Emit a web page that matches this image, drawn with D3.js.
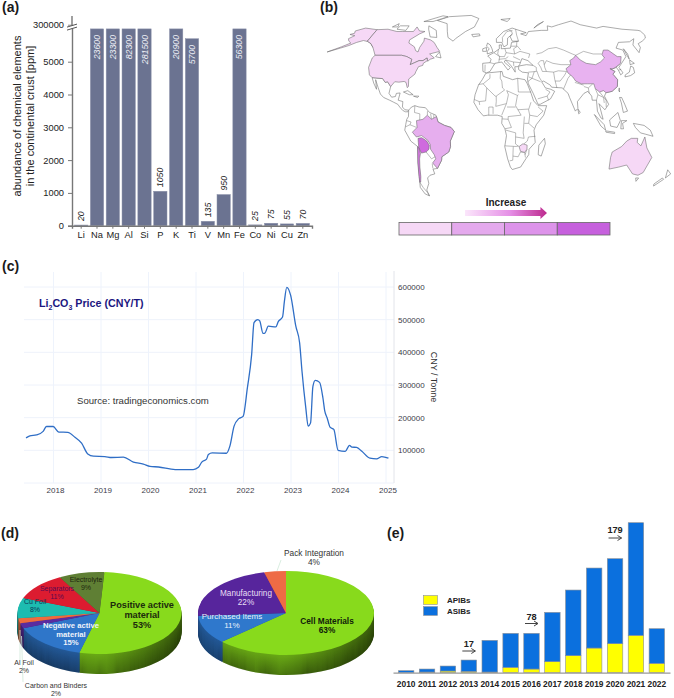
<!DOCTYPE html>
<html>
<head>
<meta charset="utf-8">
<script src="https://cdn.jsdelivr.net/npm/d3@7"></script>
<style>
  html, body { margin: 0; padding: 0; background: #fff; }
  svg { display: block; font-family: "Liberation Sans", Arial, sans-serif; }
  .panel-label { font-size: 14px; font-weight: bold; fill: #1a1a1a; }
</style>
</head>
<body>
<div class="container"></div>
<script>
// (a) crustal abundance
const elements = ['Li', 'Na', 'Mg', 'Al', 'Si', 'P', 'K', 'Ti', 'V', 'Mn', 'Fe', 'Co', 'Ni', 'Cu', 'Zn']
const abundance = [20, 23600, 23300, 82300, 281500, 1050, 20900, 5700, 135, 950, 56300, 25, 75, 55, 70]
const abundanceTicks = [0, 1000, 2000, 3000, 4000, 5000, 300000]

// (c) lithium carbonate price
const priceYears = [2017.39, 2017.47, 2017.61, 2017.75, 2017.82, 2017.96, 2018.08, 2018.27, 2018.42, 2018.56, 2018.69, 2018.81, 2019.05, 2019.19, 2019.44, 2019.65, 2019.86, 2020.0, 2020.18, 2020.53, 2020.91, 2021.02, 2021.09, 2021.19, 2021.23, 2021.31, 2021.61, 2021.68, 2021.77, 2021.87, 2021.96, 2022.05, 2022.14, 2022.19, 2022.27, 2022.31, 2022.38, 2022.42, 2022.49, 2022.65, 2022.7, 2022.79, 2022.83, 2022.88, 2022.96, 2023.07, 2023.15, 2023.2, 2023.28, 2023.33, 2023.38, 2023.43, 2023.48, 2023.57, 2023.64, 2023.68, 2023.73, 2023.79, 2023.87, 2023.96, 2024.11, 2024.2, 2024.25, 2024.35, 2024.46, 2024.63, 2024.77, 2024.88, 2025.02]
const priceValues = [138, 144, 147, 158, 173, 173, 156, 155, 140, 122, 89, 82, 81, 78, 79, 64, 58, 51, 49, 41, 41, 48, 64, 73, 87, 92, 91, 112, 174, 197, 204, 291, 393, 491, 500, 496, 458, 459, 480, 478, 494, 508, 557, 599, 575, 480, 429, 342, 230, 174, 184, 296, 314, 308, 261, 220, 199, 171, 164, 100, 97, 115, 110, 109, 97, 76, 74, 81, 76].map(v => v * 1000)
const priceTicks = [0, 100000, 200000, 300000, 400000, 500000, 600000]
const yearTicks = [2018, 2019, 2020, 2021, 2022, 2023, 2024, 2025]

// (d) cost breakdown
const cellNames = ['Positive', 'Negative', 'Carbon', 'Al', 'Cu', 'Separators', 'Electrolyte']
const cellShares = [53, 15, 2, 2, 8, 11, 9]
const cellColors = ['#88da1c', '#2f76c9', '#5a2ca0', '#ee6b3d', '#1dbcb0', '#dc1c30', '#5f7f34']
const packNames = ['Cell', 'Purchased', 'Manufacturing', 'Pack']
const packShares = [63, 11, 22, 4]
const packColors = ['#88da1c', '#2f78cc', '#57259c', '#ee6b45']

// (e) publications
const pubYears = [2010, 2011, 2012, 2013, 2014, 2015, 2016, 2017, 2018, 2019, 2020, 2021, 2022]
const apibs = [0, 2, 5, 4, 2, 16, 11, 33, 51, 74, 87, 112, 28]
const asibs = [6, 9, 15, 34, 95, 102, 107, 148, 197, 240, 255, 338, 104]

// (b) map outlines, lon/lat
const alaska = [[-168,65.5],[-164,66.5],[-166,68.5],[-157,71],[-141,69.6],[-141,60],[-135,58],[-130,55],[-133,57],[-139,59.5],[-146,60.5],[-152,59],[-158,56.5],[-165,54.5],[-176,51.5],[-165,55.5],[-158,58.5],[-162,60],[-165,62],[-161,64.5]]
const canada = [[-141,69.6],[-128,70],[-115,68],[-108,68],[-95,68],[-94,72],[-88,68.5],[-81,68],[-86,66],[-94,61],[-93,58.5],[-85,55.5],[-82,52.5],[-79,51.5],[-79,55],[-77,60],[-78,62.5],[-70,61],[-65,59],[-60,55],[-56,52],[-66,50],[-60,47],[-64,46],[-66,44.5],[-67.5,47],[-71,45],[-75,45],[-79,43.5],[-83,42],[-83,46],[-89,48],[-95,49],[-123,49],[-130,55],[-135,58],[-141,60]]
const usa = [[-123,49],[-95,49],[-89,48],[-83,46],[-83,42],[-79,43.5],[-75,45],[-71,45],[-67.5,47],[-66.5,45],[-70,43],[-70,41.5],[-74,40.5],[-75.5,37],[-76,35],[-81,31.5],[-80,26],[-81,25.2],[-83,29],[-85,29.7],[-90,29.2],[-94,29.5],[-97,26],[-101,29.5],[-103,29],[-106.5,31.8],[-117,32.5],[-120.5,34.5],[-124,40],[-124.5,47]]
const mexico = [[-117,32.5],[-106.5,31.8],[-103,29],[-101,29.5],[-97,26],[-97.5,21],[-94.5,18.2],[-91,18.7],[-90.5,21],[-87,21.3],[-88,16],[-83.5,15],[-83.5,11],[-81,9],[-77.5,8.7],[-78,7.5],[-80.5,7.5],[-83,8.5],[-86,11],[-88,13],[-92,14.5],[-96,16],[-102,18],[-105.5,20.5],[-109,25.5],[-113,31],[-110,24],[-114,28.5]]
const greenland = [[-73,78],[-60,82],[-30,83.5],[-18,80],[-22,72],[-32,68],[-42,62],[-44,60],[-51,63],[-54,68],[-58,75]]
const southAmerica = [[-77.5,8.7],[-75,11],[-72,12],[-68,11],[-62,10.5],[-58,7],[-52,5],[-50,0],[-44,-2.5],[-38,-4],[-35,-7],[-39,-14],[-39,-18],[-41,-22],[-48,-25.5],[-48.5,-28],[-53.5,-34],[-58,-34.5],[-57,-38],[-62,-39],[-65,-41],[-65,-45],[-69,-50],[-68,-54.5],[-72,-53],[-75,-48],[-73,-40],[-71.5,-30],[-70,-18],[-76,-14],[-81,-6],[-80,-2],[-79,2],[-77.5,4]]
const brazil = [[-60,5],[-64,2],[-70,1],[-69.5,-4],[-74,-7.5],[-70.5,-11],[-65.5,-10],[-60,-13.5],[-58,-16.5],[-58,-20],[-55,-24],[-54,-27],[-57.5,-30],[-53.5,-34],[-48.5,-28],[-48,-25.5],[-41,-22],[-39,-18],[-39,-14],[-35,-7],[-38,-4],[-44,-2.5],[-50,0],[-51.5,4],[-56,2]]
const bolivia = [[-69,-12],[-65.5,-11.5],[-61,-14],[-59,-17],[-59.5,-20],[-62.5,-22],[-67,-22.8],[-69,-19],[-69,-15]]
const chile = [[-70,-18],[-69,-19],[-68,-23],[-69.5,-27],[-70.5,-33],[-71.5,-40],[-73,-44],[-74,-44],[-73.3,-40],[-71.8,-30]]
const africa = [[-6,35.8],[10,37],[11,33.5],[20,31],[25,32],[32,31],[34,28],[37,21],[39,15.5],[43,12],[51,12],[48,5],[41,-2],[39,-6],[40.5,-15],[35,-20],[35,-24],[32.5,-27],[28,-33],[20,-34.8],[18,-33],[15,-27],[12,-18],[13.5,-10],[12,-5],[9,-1],[9.5,4],[5,5],[-4,5],[-8,4.5],[-13,9],[-17,14.5],[-16,20],[-13,27],[-9.5,31]]
const zimbabwe = [[25.5,-18],[29,-16],[33,-17],[33,-20],[31,-22.3],[27,-21.5]]
const eurasia = [[-9,37],[-9.5,43],[-2,43.5],[-1,46],[-4.5,48.5],[2,51],[8,54],[8,57],[10.5,57],[10,54],[20,54.5],[22,59],[30,60],[23,60],[21,64],[24,65.7],[18,62.5],[17,57],[13,55.5],[11,59],[5,59],[5,62],[14,68],[25,71],[41,67],[34,66],[40,64.5],[44,68],[60,69],[68,69],[70,73],[75,72],[85,74],[105,77.5],[113,74],[130,71],[140,72.5],[160,70],[178,69],[180,68.5],[180,65],[177,62.5],[170,60],[163,58],[162,55],[156.5,51],[156,57],[163,62],[155,59.5],[142,59],[135,54.5],[141,53],[140,48],[132,43],[127.5,40],[129.5,36],[126.5,34.5],[126,37.5],[125,40],[121,39],[118,39],[122,37],[119,35],[122,31],[120,26],[114,22.5],[108,21.5],[106,19],[109,13],[105,9],[100,13.5],[103,2],[101,3],[98,8],[98,16],[94,16],[94,19],[91,22.5],[87,21],[80,15],[80,10],[77.5,8],[73,18],[72,21],[67,25],[57,25.5],[56,27],[50,30],[48,29.5],[51,25],[56,24],[59.5,22.5],[55,17],[45,13],[43,13],[39,21],[35,28],[34.5,31.5],[36,36],[30,36.5],[26.5,38.5],[27,41],[35,42],[41.5,41.5],[37,45],[31,46.5],[28,42],[26,40.5],[23,40.5],[23,36.5],[19.5,41],[14,45.5],[12.5,44],[18.5,40],[16,38],[10,44],[3,43],[0,39.5],[-2,37],[-5.5,36]]
const china = [[74,39],[80,42],[80,45],[85,47],[88,49],[91,45.5],[96,43],[105,42],[111,44],[117,47],[116,49.5],[120,53],[125,53],[131,48],[135,48],[131,43],[127.5,41.5],[124,40],[121,39],[118,39],[122,37],[119,35],[122,31],[120,26],[114,22.5],[108,21.5],[106,23],[102,22],[98.5,24.5],[98,28],[92,28],[86,28],[81,30],[79,33],[75,36]]
const australia = [[114,-22],[122,-18],[126,-14],[130,-12],[136,-12],[136,-15],[140,-17.5],[142.5,-11],[146,-19],[153,-26],[150,-37],[146,-39],[140,-38],[135,-34.5],[131,-31.5],[124,-33],[115,-34.5],[113.5,-26]]
const islands = [
  [[49,-12],[50,-16],[47,-25],[44,-24],[44,-17]],
  [[-5,50],[1,51.5],[0,54],[-2,57],[-5,58.5],[-6,56],[-3,54],[-5,52]],
  [[-10,52],[-6,52],[-6,55],[-10,54]],
  [[-24,65.5],[-15,66],[-14,64.5],[-22,63.5]],
  [[12,79],[25,80],[20,77]],
  [[52,71],[68,77],[58,74]],
  [[130,33],[136,34],[141,36],[142,40],[140,41],[136,36.5],[131,34.5]],
  [[140,42],[145,43],[142,45.5]],
  [[142,46],[143.5,50],[142.5,54],[142,50]],
  [[120.5,23],[121.5,25],[121,22]],
  [[120,18],[122,18],[124,13],[126,8],[122,7],[121,14]],
  [[80,9.5],[82,7],[80.5,6]],
  [[95,5.5],[104,-2],[105.5,-6],[101,-3]],
  [[105.5,-6.5],[114,-7.5],[114,-8.5],[106,-7.5]],
  [[109,1.5],[117,7],[119,1],[116,-4],[110,-3]],
  [[120,1],[125,1],[121,-1],[122,-5],[119.5,-5]],
  [[131,-1],[141,-2.5],[147,-6],[150,-10.5],[143,-9],[138,-8],[133,-4]],
  [[145,-41],[148,-41],[147,-43.5]],
  [[173,-35],[178,-38],[175,-41]],
  [[172,-41],[174,-42],[168,-47],[167,-45.5]],
  [[-84,22],[-80,23],[-74.5,20],[-78,20]],
  [[-74,19],[-69,19],[-70,18]],
  [[-80,73],[-68,69],[-64,63],[-72,63.5],[-78,70]],
  [[-117,70],[-105,69],[-105,73],[-116,73]],
  [[-90,77],[-70,83],[-62,82],[-78,77]],
  [[-125,72],[-118,72],[-120,75]],
  [[-59,48],[-53,47],[-56,51.5]]
]
const borders = [
  // south america
  [[-72,12],[-72,7],[-67,6],[-67,1.5]], [[-80,-3.5],[-76,-2],[-70,-4]], [[-79,1],[-75,0],[-76,-2]], [[-60,8],[-60,5]], [[-57,6],[-56,2]], [[-54,5.5],[-54,2.5]], [[-62.5,-22],[-58,-27],[-54.5,-25.5]], [[-58,-34],[-58,-30.5]], [[-72,-48],[-69,-52],[-68,-54.5]], [[-74,-44],[-72,-48]],
  // africa
  [[-2,35],[-2,32],[-8.5,28],[-13,27.5]], [[8.5,37],[8,32],[9.5,30]], [[9.5,30],[10,25],[12,23.5]], [[-8.5,28],[-5,25],[3,19],[4,19],[12,23.5]], [[-5,25],[-6,15.5],[-12,15]], [[-16.5,16.5],[-12,15],[-11.5,12.5]], [[25,32],[25,22]], [[25,22],[37,22]], [[14,23],[24,19.5],[25,20]], [[14,23],[15.5,20],[13.5,13.5]], [[4,19],[4,15],[3.5,11.5],[13.5,13.5]], [[24,19.5],[22,12],[27,5]], [[14,11],[22,11]], [[13.5,13.5],[9,5]], [[-3,5],[-3,11],[1,11],[1,6]], [[15,4],[27,5]], [[9.5,2.3],[15,2],[15,4]], [[12,-5],[18,-4],[15,2]], [[30,4],[29,-8],[30,-12],[22,-11],[22,-8],[13,-6]], [[36.5,14.5],[34,9],[35,5]], [[43,11],[47.5,8],[42,4],[35,5]], [[34,-1],[39,-4.5]], [[30,-1],[34,-1],[35,5]], [[24,9],[34,9.5]], [[34,-11],[40.5,-10.5]], [[12,-17.5],[23,-18],[25,-17.5]], [[22,-11],[22,-16],[25,-18]], [[20,-18],[20,-28],[17,-28.5]], [[20,-25],[25,-25.5],[27,-22],[31,-22.3],[32,-26]], [[30,-16],[33,-14],[34,-11]], [[33,-20],[31.5,-24]],
  // europe
  [[30,60],[29,65],[29,70]], [[12,59],[12,63],[18,68],[25,69]], [[24,65.7],[24,68],[21,69]], [[28,59.5],[27,56],[21,56]], [[14,54],[15,51],[24,50],[23.5,54]], [[7,53.5],[6,50],[8,48],[13,48],[15,51]], [[2,51],[8,48],[7,44]], [[-2,43.5],[3,42.5]], [[-7,42],[-7,37]], [[24,50],[30,52],[40,50],[38,47]], [[23.5,54],[28,56],[31,53]], [[22,48],[29,45.5]], [[22,44],[29,43.5]], [[7,46],[14,46.5],[17,48]], [[14,45.5],[22,44],[22,41]],
  // asia
  [[36,36.5],[44,37],[44.5,40],[41.5,41.5]], [[36,33],[39,32],[42,37]], [[34.5,29.5],[39,32],[47,29.5]], [[44.5,37.5],[46,33],[48,30]], [[43,17],[52,19],[55,22],[51,24]], [[52,19],[53,16]], [[61,36.5],[61,31],[62,25]], [[47,50],[53,51],[61,54],[70,55],[77,53],[85,50],[88,49]], [[88,49],[98,52],[107,50],[116,50]], [[53,42],[56,45],[62,43],[70,42],[80,42]], [[54,37],[61,36.5],[66,37.5],[74,37]], [[61,30],[66,30],[71,34],[74,37]], [[68,24],[71,28],[74,32],[78,35]], [[80,29],[88,27]], [[88,26],[92,25],[92,21]], [[92,25],[97,28]], [[98.5,24.5],[100,20],[98,16]], [[100,20],[105,18],[105,14]], [[102,22],[107,16],[106.5,11]], [[124.5,40],[130,42.5]], [[126,38],[129,38.5]],
  // caspian
  [[50,45],[53,45],[53,40],[54,37],[50,37],[49,40],[47,43],[50,45]]
]

const legendSteps = ['#f6d8f6', '#e4a9ed', '#dd93ea', '#c660dd']

const svg = d3.select('.container').append('svg').attr('width', 674).attr('height', 698)
const defs = svg.append('defs')

const panelLabels = [['(a)', 2, 12], ['(b)', 320, 12], ['(c)', 2, 271], ['(d)', 1, 538], ['(e)', 387, 538]]
svg.selectAll('.panel-label').data(panelLabels).enter().append('text')
  .attr('class', 'panel-label')
  .attr('x', d => d[1]).attr('y', d => d[2])
  .text(d => d[0])

function drawBars() {
  const g = svg.append('g')
  const color = '#6b7391'
  const x = d3.scaleBand().domain(elements).range([72, 312]).padding(0.16)
  const y = d3.scaleLinear().domain([0, 6000, 300000]).range([225.7, 28.9, 25])
  const cap = 6000

  g.selectAll('rect').data(elements).enter().append('rect')
    .attr('x', d => x(d))
    .attr('width', x.bandwidth())
    .attr('y', (d, i) => y(Math.min(abundance[i], cap)))
    .attr('height', (d, i) => y(0) - y(Math.min(abundance[i], cap)))
    .attr('fill', color)
    .attr('stroke', '#8b91a9').attr('stroke-width', 0.5)

  const yAxis = g.append('g').attr('transform', 'translate(72,0)')
    .call(d3.axisLeft(y).tickValues(abundanceTicks).tickFormat(d3.format('d')).tickSize(4).tickPadding(4))
  const xAxis = g.append('g').attr('transform', 'translate(0,225.7)')
    .call(d3.axisBottom(x).tickSize(3).tickPadding(3))
  for (const axis of [yAxis, xAxis]) {
    axis.attr('font-family', null).attr('font-size', 9.3)
    axis.selectAll('text').attr('fill', '#222')
    axis.selectAll('line').attr('stroke', '#777')
    axis.select('.domain').attr('stroke', '#777').attr('stroke-width', 1.4)
  }

  // extend the axis past the break
  const breakLine = d3.line()
  g.append('path').attr('d', breakLine([[72, 16], [72, 29]])).attr('stroke', '#777').attr('stroke-width', 1.4)
  g.append('rect').attr('x', 68).attr('y', 25.6).attr('width', 8).attr('height', 3).attr('fill', '#fff')
  for (const dy of [25.6, 28.6]) {
    g.append('path').attr('d', breakLine([[67, dy + 1.5], [77, dy - 1.5]])).attr('stroke', '#555').attr('fill', 'none')
  }

  g.selectAll('.value').data(elements).enter().append('text')
    .attr('class', 'value')
    .attr('transform', (d, i) => {
      const cx = x(d) + x.bandwidth() / 2 + 3
      const tall = abundance[i] > 5000
      const top = y(Math.min(abundance[i], cap))
      return `translate(${cx},${tall ? top + 6 : top - 4}) rotate(-90)`
    })
    .attr('text-anchor', (d, i) => abundance[i] > 5000 ? 'end' : 'start')
    .attr('font-size', 8.8)
    .attr('font-style', 'italic')
    .attr('fill', (d, i) => abundance[i] > 5000 ? '#eceef5' : '#222')
    .text((d, i) => abundance[i])

  const label = g.append('text').attr('transform', 'translate(20.5,116) rotate(-90)')
    .attr('text-anchor', 'middle').attr('font-size', 11).attr('fill', '#222')
  label.append('tspan').attr('x', 0).attr('y', 0).text('abundance of chemical elements')
  label.append('tspan').attr('x', 0).attr('y', 13.5).text('in the continental crust [ppm]')
}

function drawMap() {
  const g = svg.append('g')
  const raw = (l, p) => {
    const r = d3.geoNaturalEarth1Raw(l, p)
    return [r[0], r[1] * 1.09]
  }
  const projection = d3.geoProjection(raw).scale(71).translate([492, 122]).precision(0.1)
  const shape = d3.line().x(d => projection(d)[0]).y(d => projection(d)[1])
  const closed = pts => shape(pts) + 'Z'
  const stroke = '#666'

  const addLand = (pts, fill) => g.append('path').attr('d', closed(pts))
    .attr('fill', fill).attr('stroke', stroke).attr('stroke-width', 0.55).attr('stroke-linejoin', 'round')

  for (const pts of [greenland, mexico, southAmerica, africa, eurasia, ...islands]) addLand(pts, '#fff')
  g.selectAll('.border').data(borders).enter().append('path')
    .attr('class', 'border').attr('d', shape).attr('fill', 'none')
    .attr('stroke', stroke).attr('stroke-width', 0.45)

  addLand(alaska, legendSteps[0])
  addLand(canada, legendSteps[0])
  addLand(usa, legendSteps[0])
  addLand(australia, legendSteps[0])
  addLand(zimbabwe, legendSteps[0])
  addLand(china, '#e8b2f0')
  addLand(brazil, '#e6aeee')
  addLand(bolivia, '#cf6ade')
  addLand(chile, '#d679e2')

  // increase arrow
  const grad = defs.append('linearGradient').attr('id', 'increase')
  grad.append('stop').attr('offset', '0').attr('stop-color', '#fbe6fb')
  grad.append('stop').attr('offset', '0.55').attr('stop-color', '#e58fe6')
  grad.append('stop').attr('offset', '1').attr('stop-color', '#bd2a8e')
  const arrowX = d3.scaleLinear().domain([0, 1]).range([465, 547])
  g.append('path')
    .attr('d', d3.line()([[arrowX(0), 210], [arrowX(0.92), 210], [arrowX(0.92), 207], [arrowX(1), 213], [arrowX(0.92), 219], [arrowX(0.92), 216], [arrowX(0), 216]]) + 'Z')
    .attr('fill', 'url(#increase)')
  g.append('text').attr('x', 506).attr('y', 206).attr('text-anchor', 'middle')
    .attr('font-size', 10).attr('font-weight', 'bold').attr('fill', '#222').text('Increase')

  const band = d3.scaleBand().domain(d3.range(legendSteps.length)).range([399, 610])
  g.selectAll('.step').data(legendSteps).enter().append('rect')
    .attr('class', 'step')
    .attr('x', (d, i) => band(i)).attr('y', 222.5)
    .attr('width', band.bandwidth()).attr('height', 12.5)
    .attr('fill', d => d).attr('stroke', '#666').attr('stroke-width', 0.8)
}

function drawPrice() {
  const g = svg.append('g')
  const x = d3.scaleLinear().domain([2018, 2025]).range([55, 387.5])
  const y = d3.scaleLinear().domain([0, 600000]).range([483, 287])
  const left = 24
  const right = 394

  g.selectAll('.hgrid').data(priceTicks).enter().append('line')
    .attr('class', 'hgrid').attr('x1', left).attr('x2', right)
    .attr('y1', d => y(d)).attr('y2', d => y(d))
    .attr('stroke', '#eef2fb').attr('stroke-width', 1)
  g.selectAll('.vgrid').data(yearTicks).enter().append('line')
    .attr('class', 'vgrid').attr('x1', d => x(d) - 1.5).attr('x2', d => x(d) - 1.5)
    .attr('y1', 272).attr('y2', 483)
    .attr('stroke', '#eef3fc').attr('stroke-width', 1)
  g.append('line').attr('x1', right).attr('x2', right).attr('y1', 271).attr('y2', 483).attr('stroke', '#e2e4ea')

  const yAxis = g.append('g').attr('transform', `translate(${right},0)`)
    .call(d3.axisRight(y).tickValues(priceTicks.slice(1)).tickFormat(d3.format('d')).tickSize(0).tickPadding(4))
  const xAxis = g.append('g').attr('transform', 'translate(0,483)')
    .call(d3.axisBottom(x).tickValues(yearTicks).tickFormat(d3.format('d')).tickSize(0).tickPadding(4))
  for (const axis of [yAxis, xAxis]) {
    axis.attr('font-family', null).attr('font-size', 8)
    axis.select('.domain').remove()
    axis.selectAll('text').attr('fill', '#3c3c4a')
  }

  const line = d3.line().x(d => x(d[0])).y(d => y(d[1])).curve(d3.curveMonotoneX)
  g.append('path').attr('d', line(d3.zip(priceYears, priceValues)))
    .attr('fill', 'none').attr('stroke', '#2f6ec6').attr('stroke-width', 1.3)

  g.append('text').attr('transform', 'translate(431,377) rotate(90)').attr('text-anchor', 'middle')
    .attr('font-size', 9).attr('fill', '#333').text('CNY / Tonne')
  g.append('text').attr('x', 77).attr('y', 404).attr('font-size', 9.6).attr('fill', '#333')
    .text('Source: tradingeconomics.com')

  const title = g.append('text').attr('x', 39).attr('y', 307).attr('font-size', 10.7)
    .attr('font-weight', 'bold').attr('fill', '#1b1680')
  title.append('tspan').text('Li')
  title.append('tspan').attr('dy', 3).attr('font-size', 7).text('2')
  title.append('tspan').attr('dy', -3).text('CO')
  title.append('tspan').attr('dy', 3).attr('font-size', 7).text('3')
  title.append('tspan').attr('dy', -3).text(' Price (CNY/T)')
}

function drawPie(id, names, shares, colors, cx, cy, rx, ry, depth, start) {
  const g = svg.append('g')
  const arcs = d3.pie().sort(null).value(d => d).startAngle(start).endAngle(start + 2 * Math.PI)(shares)
  const arc = d3.arc().innerRadius(0).outerRadius(rx)
  const k = ry / rx

  // side wall goes dark towards the right, top surface stays flat
  colors.forEach((c, i) => {
    const grad = defs.append('linearGradient').attr('id', `${id}-${i}`)
      .attr('gradientUnits', 'userSpaceOnUse')
      .attr('x1', -rx).attr('x2', rx).attr('y1', 0).attr('y2', 0)
    grad.append('stop').attr('offset', '0').attr('stop-color', d3.color(c).darker(0.9))
    grad.append('stop').attr('offset', '0.5').attr('stop-color', d3.color(c).darker(0.7))
    grad.append('stop').attr('offset', '1').attr('stop-color', d3.color(c).darker(2.4))
  })

  for (let dy = depth; dy >= 1; dy--) {
    const layer = g.append('g').attr('transform', `translate(${cx},${cy + dy}) scale(1,${k})`)
    layer.selectAll('.side').data(arcs).enter().append('path')
      .attr('class', 'side').attr('d', arc)
      .attr('fill', (d, i) => `url(#${id}-${i})`)
    layer.append('circle').attr('r', rx).attr('fill', '#000').attr('fill-opacity', 0.32 * dy / depth)
  }
  g.append('g').attr('transform', `translate(${cx},${cy}) scale(1,${k})`)
    .selectAll('path').data(arcs).enter().append('path')
    .attr('d', arc)
    .attr('fill', (d, i) => colors[i])
    .append('title').text((d, i) => names[i])
}

function pieText(lines, anchorX, anchorY, size, weight, fill) {
  const text = svg.append('text').attr('text-anchor', 'middle')
    .attr('font-size', size).attr('font-weight', weight).attr('fill', fill)
  lines.forEach((l, i) => {
    text.append('tspan').attr('x', anchorX).attr('y', anchorY + i * (size + 1)).text(l)
  })
}

function drawPies() {
  drawPie('cell', cellNames, cellShares, cellColors, 99.5, 613, 82, 41, 20, 0.06)
  drawPie('pack', packNames, packShares, packColors, 286, 613, 88, 42, 20, 0)

  const leader = d3.line()
  for (const pts of [[[20, 630], [20, 660]], [[21.5, 636], [23, 682]], [[277, 571], [281, 560]]]) {
    svg.append('path').attr('d', leader(pts)).attr('fill', 'none').attr('stroke', '#cfe8d8').attr('stroke-width', 0.8)
  }

  pieText(['Positive active', 'material', '53%'], 142, 608, 9.2, 'bold', '#1c2b0c')
  pieText(['Negative active', 'material', '15%'], 71, 628, 7.7, 'bold', '#eef2fa')
  pieText(['Electrolyte', '9%'], 86, 582, 7, 'normal', '#20260f')
  pieText(['Separators', '11%'], 57, 591, 7, 'normal', '#5a0a50')
  pieText(['Cu Foil', '8%'], 35, 604, 7, 'normal', '#0b3a5a')
  pieText(['Al Foil', '2%'], 24, 665, 7, 'normal', '#333')
  pieText(['Carbon and Binders', '2%'], 56, 688, 7, 'normal', '#333')

  pieText(['Pack Integration', '4%'], 314, 556, 8.3, 'normal', '#333')
  pieText(['Manufacturing', '22%'], 246, 596, 8.2, 'normal', '#e8dff5')
  pieText(['Purchased Items', '11%'], 232, 619, 8.1, 'normal', '#e8f0fa')
  pieText(['Cell Materials', '63%'], 327, 624, 8.3, 'bold', '#10200a')
}

function drawStack() {
  const g = svg.append('g')
  const x = d3.scaleBand().domain(pubYears).range([393, 670]).padding(0.26)
  const y = d3.scaleLinear().domain([0, 450]).range([672.7, 522.7])

  const rows = pubYears.map((year, i) => ({ year, APIBs: apibs[i], ASIBs: asibs[i] }))
  const series = d3.stack().keys(['APIBs', 'ASIBs'])(rows)
  const colors = { APIBs: '#ffff00', ASIBs: '#0b70de' }

  g.selectAll('.series').data(series).enter().append('g')
    .attr('class', 'series').attr('fill', d => colors[d.key])
    .selectAll('rect').data(d => d).enter().append('rect')
    .attr('x', d => x(d.data.year))
    .attr('y', d => y(d[1]))
    .attr('width', x.bandwidth())
    .attr('height', d => y(d[0]) - y(d[1]))
    .attr('stroke', '#8a8f96').attr('stroke-width', 0.6)

  const axis = g.append('g').attr('transform', 'translate(0,672.7)')
    .call(d3.axisBottom(x).tickSize(0).tickPadding(8).tickFormat(d3.format('d')))
  axis.attr('font-family', null).attr('font-size', 8.4).attr('font-weight', 'bold')
  axis.selectAll('text').attr('fill', '#222')
  axis.select('.domain').attr('stroke', '#999').attr('stroke-width', 1.2)

  const legend = [['APIBs', 600], ['ASIBs', 611]]
  g.selectAll('.legend-box').data(legend).enter().append('rect')
    .attr('class', 'legend-box')
    .attr('x', 423.5).attr('y', d => d[1] - 4.4).attr('width', 14).attr('height', 8.8)
    .attr('fill', d => colors[d[0]]).attr('stroke', '#8a8f96').attr('stroke-width', 0.6)
  g.selectAll('.legend-text').data(legend).enter().append('text')
    .attr('class', 'legend-text')
    .attr('x', 447).attr('y', d => d[1] + 3)
    .attr('font-size', 8).attr('font-weight', 'bold').attr('fill', '#222').text(d => d[0])

  const notes = [['17', 2013, 646.5, 651], ['78', 2016, 620, 623.5], ['179', 2020, 533, 538]]
  const lead = d3.line()
  for (const [label, year, ty, ay] of notes) {
    const cx = x(year) + x.bandwidth() / 2
    g.append('text').attr('x', cx).attr('y', ty).attr('text-anchor', 'middle')
      .attr('font-size', 9.2).attr('font-weight', 'bold').attr('fill', '#222').text(label)
    g.append('path').attr('d', lead([[cx - 6.5, ay], [cx + 6.5, ay]])).attr('stroke', '#444').attr('fill', 'none')
    g.append('path').attr('d', lead([[cx + 2.5, ay - 2.5], [cx + 6.5, ay], [cx + 2.5, ay + 2.5]])).attr('stroke', '#444').attr('fill', 'none')
  }
}

drawBars()
drawMap()
drawPrice()
drawPies()
drawStack()
</script>
</body>
</html>
